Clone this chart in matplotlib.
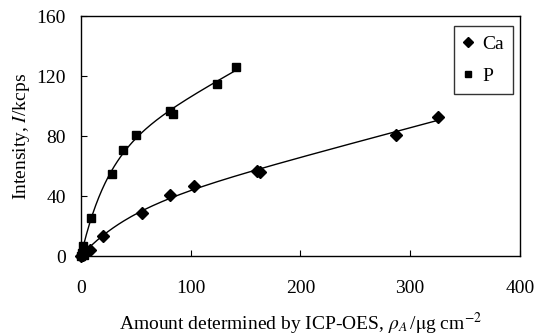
import numpy as np
import matplotlib
matplotlib.use("Agg")
import matplotlib.pyplot as plt

plt.rcParams['font.family'] = ['Liberation Serif', 'DejaVu Serif']
plt.rcParams['mathtext.fontset'] = 'stix'

# Data
p_x = [0, 1, 2, 3, 9, 28, 38, 50, 81, 83.5, 124, 141]
p_y = [0, 2, 7, 1, 25.5, 55, 71, 81, 97, 95, 115, 126]
ca_x = [0, 2, 4, 8, 20, 56, 81, 103, 160, 163, 287, 325]
ca_y = [0, 1, 2, 4, 13.5, 29, 40.7, 46.7, 57, 56, 80.5, 93]

fig = plt.figure(figsize=(5.36, 3.36), dpi=100)
ax = fig.add_axes([0.151, 0.238, 0.819, 0.714])

# trend fit y = a (1 - exp(-b x)) + c x, least squares (grid over b)
def fit_trend(x, y):
    x = np.asarray(x, float); y = np.asarray(y, float)
    best = None
    for b in np.linspace(0.001, 0.1, 3000):
        A = np.vstack([1 - np.exp(-b * x), x]).T
        coef, *_ = np.linalg.lstsq(A, y, rcond=None)
        r = np.sum((y - A @ coef) ** 2)
        if best is None or r < best[0]:
            best = (r, coef, b)
    _, (a, c), b = best
    return lambda t: a * (1 - np.exp(-b * t)) + c * t

fp = fit_trend(p_x, p_y)
tp = np.linspace(0, max(p_x), 200)
ax.plot(tp, fp(tp), color='black', lw=1.0)
fc = fit_trend(ca_x, ca_y)
tc = np.linspace(0, max(ca_x), 200)
ax.plot(tc, fc(tc), color='black', lw=1.0)

ax.plot(ca_x, ca_y, 'D', color='black', ms=6, ls='none', label='Ca', clip_on=False)
ax.plot(p_x, p_y, 's', color='black', ms=6, ls='none', label='P', clip_on=False)

ax.set_xlim(0, 400)
ax.set_ylim(0, 160)
ax.set_xticks([0, 100, 200, 300, 400])
ax.set_yticks([0, 40, 80, 120, 160])
ax.tick_params(direction='in', labelsize=14, top=False, right=False, length=4)
ax.tick_params(axis='x', pad=17)
ax.tick_params(axis='y', pad=11)
for s in ax.spines.values():
    s.set_linewidth(1.0)

ax.set_xlabel(r'Amount determined by ICP-OES, $\rho_A\,$/$\mathrm{\mu}$g cm$^{-2}$', fontsize=14, labelpad=10)
ax.set_ylabel(r'Intensity, $I$/kcps', fontsize=14, labelpad=3)

leg = ax.legend(loc='upper right', fontsize=14, frameon=True, fancybox=False,
                edgecolor='black', handlelength=0.5, handletextpad=0.5,
                borderpad=0.45, labelspacing=0.75, markerscale=0.8,
                borderaxespad=0, bbox_to_anchor=(0.984, 0.958))
leg.get_frame().set_linewidth(1.0)

fig.savefig('out.png', dpi=100)
